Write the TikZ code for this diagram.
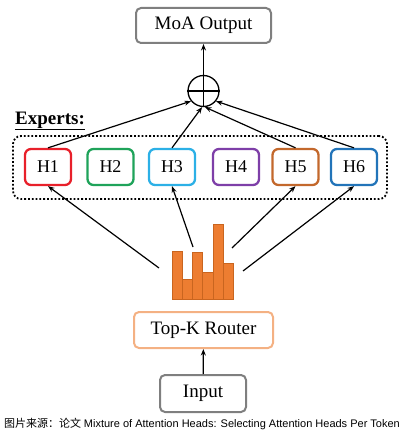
\documentclass[tikz,border=0pt]{standalone}
\usepackage{fontspec}
\setmainfont{Liberation Serif}
\newfontfamily\capfont{Liberation Sans}
\newfontfamily\cjk{Noto Sans CJK SC}
\usetikzlibrary{arrows.meta}
\definecolor{grayb}{HTML}{7F7F7F}
\definecolor{routerc}{HTML}{F4B183}
\definecolor{barc}{HTML}{ED7D31}
\definecolor{barb}{HTML}{C9651F}
\definecolor{hA}{HTML}{E8202A}
\definecolor{hB}{HTML}{1FA35A}
\definecolor{hC}{HTML}{2CB0E6}
\definecolor{hD}{HTML}{7E3FA8}
\definecolor{hE}{HTML}{C3682C}
\definecolor{hF}{HTML}{2274B9}
\begin{document}
\begin{tikzpicture}[x=1pt,y=-1pt,
  box/.style={draw=#1, rounded corners=5pt, line width=2pt, inner sep=0pt,
    font=\fontsize{19}{22}\selectfont},
  head/.style={draw=#1, rounded corners=6pt, line width=2.3pt, inner sep=0pt,
    minimum width=46pt, minimum height=36pt, font=\fontsize{18}{20}\selectfont},
  arr/.style={-{Stealth[length=6.5pt,width=5pt]}, line width=1.2pt},
  bar/.style={fill=barc, draw=barb, line width=0.6pt}]
\useasboundingbox (0,0) rectangle (404,436);

\node[box=grayb, minimum width=135pt, minimum height=35pt] (out) at (203.5,25.5) {MoA Output};
\node[circle, draw, line width=1.3pt, minimum size=31pt, inner sep=0pt] (sum) at (203.5,91) {};
\draw[line width=1.3pt] (sum.north) -- (sum.south) (sum.west) -- (sum.east);

\node[anchor=base west, inner sep=0pt, font=\bfseries\fontsize{19}{22}\selectfont] (exl) at (15,124) {\underline{Experts:}};
\node[draw, dotted, line width=1.8pt, rounded corners=8pt, minimum width=374pt, minimum height=63pt] (experts) at (200,167.5) {};

\node[head=hA] (h1) at (48,167) {H1};
\node[head=hB] (h2) at (110.5,167) {H2};
\node[head=hC] (h3) at (172,167) {H3};
\node[head=hD] (h4) at (236,167) {H4};
\node[head=hE] (h5) at (295.5,167) {H5};
\node[head=hF] (h6) at (354,167) {H6};

\draw[arr] (h1.north) -- (sum.219);
\draw[arr] (h3.north) -- (sum.265);
\draw[arr] (h5.north) -- (sum.275);
\draw[arr] (h6.north) -- (sum.321);
\draw[arr] (sum) -- (out);

% bar chart
\draw[bar] (172,299) rectangle (182,251);
\draw[bar] (182,299) rectangle (192,279);
\draw[bar] (192,299) rectangle (202.5,252);
\draw[bar] (202.5,299) rectangle (213,272);
\draw[bar] (213,299) rectangle (223,224);
\draw[bar] (223,299) rectangle (233,263);

\coordinate (c1) at (159,268);
\coordinate (c3) at (193,247);
\coordinate (c5) at (232,248);
\coordinate (c6) at (243,271);
\draw[arr] (c1) -- (h1.south);
\draw[arr] (c3) -- (h3.south);
\draw[arr] (c5) -- (h5.south);
\draw[arr] (c6) -- (h6.south);

\node[box=routerc, minimum width=139pt, minimum height=36pt] (router) at (203.5,330) {Top-K Router};
\node[box=grayb, minimum width=86pt, minimum height=37pt] (input) at (203,393.5) {Input};
\draw[arr] (input) -- (router);

\node[anchor=base west, inner sep=0pt, font=\fontsize{11}{13}\selectfont] (cap) at (4,427)
  {{\cjk 图片来源：论文} {\capfont Mixture of Attention Heads: Selecting Attention Heads Per Token}};
\end{tikzpicture}
\end{document}
